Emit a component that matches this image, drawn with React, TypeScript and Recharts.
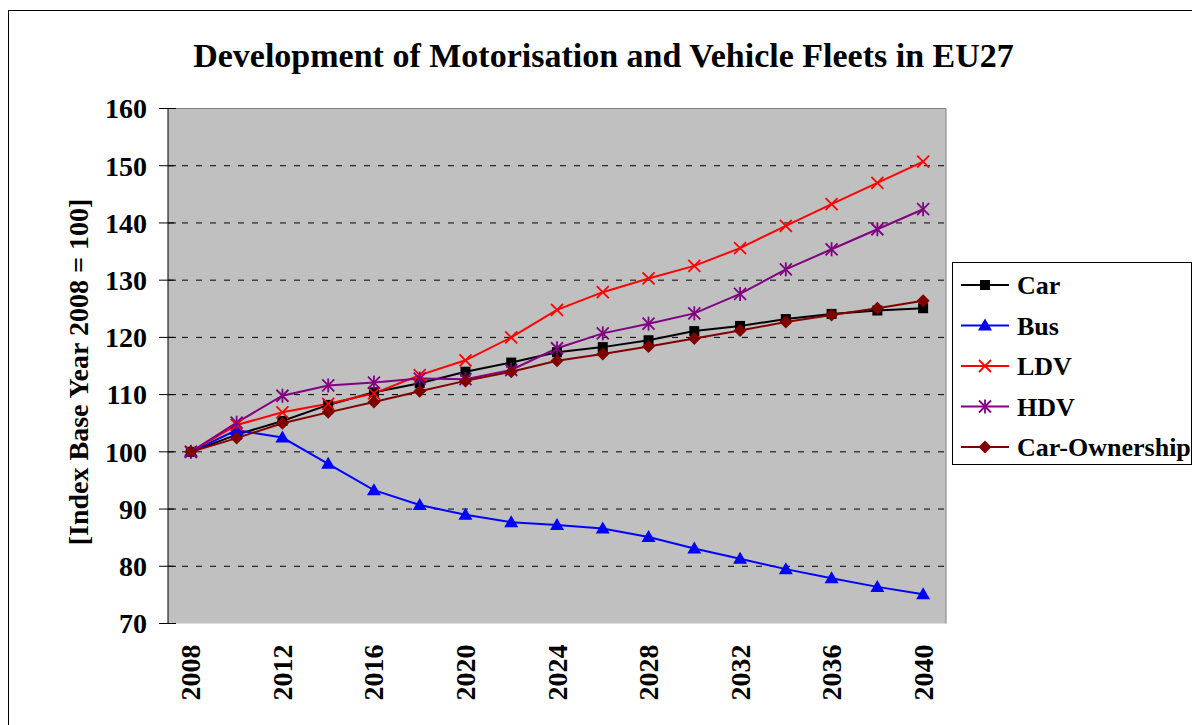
import { LineChart, Line, XAxis, YAxis, ReferenceArea, ReferenceLine, Legend } from 'recharts';

const years = [2008, 2010, 2012, 2014, 2016, 2018, 2020, 2022, 2024, 2026, 2028, 2030, 2032, 2034, 2036, 2038, 2040];
const car = [100, 103.0, 105.4, 108.2, 110.4, 112.0, 114.0, 115.6, 117.4, 118.3, 119.5, 121.1, 122.0, 123.2, 124.1, 124.7, 125.1];
const bus = [100, 103.8, 102.5, 97.9, 93.3, 90.7, 89.0, 87.7, 87.2, 86.6, 85.1, 83.1, 81.3, 79.5, 77.9, 76.4, 75.1];
const ldv = [100, 104.7, 106.9, 108.4, 110.2, 113.4, 116.0, 120.0, 124.8, 127.9, 130.3, 132.5, 135.6, 139.5, 143.3, 147.0, 150.7];
const hdv = [100, 105.1, 109.8, 111.6, 112.1, 112.8, 112.7, 114.3, 118.1, 120.7, 122.4, 124.2, 127.6, 131.9, 135.4, 138.9, 142.4];
const carOwnership = [100, 102.4, 105.0, 106.9, 108.7, 110.6, 112.4, 114.0, 115.9, 117.1, 118.4, 119.8, 121.2, 122.7, 123.9, 125.1, 126.4];

const yTicks = [70, 80, 90, 100, 110, 120, 130, 140, 150, 160];
const gridValues = [80, 90, 100, 110, 120, 130, 140, 150];
const xLabelTicks = [2008, 2012, 2016, 2020, 2024, 2028, 2032, 2036, 2040];
// category boundaries, half a step either side of each year
const xBounds = [...years.map((y) => y - 1), years[years.length - 1] + 1];

const FONT = '"Liberation Serif", "Times New Roman", serif';

type Shape = 'square' | 'triangle' | 'x' | 'star' | 'diamond';

const series: { key: string; name: string; color: string; shape: Shape; values: number[] }[] = [
  { key: 'car', name: 'Car', color: '#000000', shape: 'square', values: car },
  { key: 'bus', name: 'Bus', color: '#0000ff', shape: 'triangle', values: bus },
  { key: 'ldv', name: 'LDV', color: '#ff0000', shape: 'x', values: ldv },
  { key: 'hdv', name: 'HDV', color: '#800080', shape: 'star', values: hdv },
  { key: 'own', name: 'Car-Ownership', color: '#800000', shape: 'diamond', values: carOwnership },
];

const data = years.map((year, i) => {
  const row: Record<string, number> = { year };
  series.forEach((s) => (row[s.key] = s.values[i]));
  return row;
});

function marker(shape: Shape, color: string, cx: number, cy: number, key?: string | number) {
  switch (shape) {
    case 'square':
      return <rect key={key} x={cx - 5} y={cy - 5} width={10} height={10} fill={color} />;
    case 'triangle':
      return <polygon key={key} points={`${cx},${cy - 7} ${cx + 7},${cy + 5} ${cx - 7},${cy + 5}`} fill={color} />;
    case 'x':
      return (
        <g key={key} stroke={color} strokeWidth={1.8}>
          <line x1={cx - 6} y1={cy - 6} x2={cx + 6} y2={cy + 6} />
          <line x1={cx - 6} y1={cy + 6} x2={cx + 6} y2={cy - 6} />
        </g>
      );
    case 'star':
      return (
        <g key={key} stroke={color} strokeWidth={1.8}>
          <line x1={cx - 6} y1={cy - 6} x2={cx + 6} y2={cy + 6} />
          <line x1={cx - 6} y1={cy + 6} x2={cx + 6} y2={cy - 6} />
          <line x1={cx} y1={cy - 7} x2={cx} y2={cy + 7} />
        </g>
      );
    case 'diamond':
    default:
      return <polygon key={key} points={`${cx},${cy - 6.5} ${cx + 6.5},${cy} ${cx},${cy + 6.5} ${cx - 6.5},${cy}`} fill={color} />;
  }
}

const YTick = (props: any) => {
  const { x, y, payload } = props;
  return (
    <g>
      <line x1={x + 12} y1={y} x2={x + 29} y2={y} stroke="#000" />
      <text x={x} y={y} dy="0.35em" textAnchor="end" fontFamily={FONT} fontWeight="bold" fontSize={28} fill="#000">
        {payload.value}
      </text>
    </g>
  );
};

const XTick = (props: any) => {
  const { x, y, payload } = props;
  return (
    <text
      x={x}
      y={y}
      transform={`rotate(-90 ${x} ${y})`}
      textAnchor="end"
      dominantBaseline="central"
      fontFamily={FONT}
      fontWeight="bold"
      fontSize={28}
      fill="#000"
    >
      {payload.value}
    </text>
  );
};

const YLabel = (props: any) => {
  const { viewBox } = props;
  const cx = viewBox.x + 70;
  const cy = viewBox.y + viewBox.height / 2 + 6;
  return (
    <text
      x={cx}
      y={cy}
      transform={`rotate(-90 ${cx} ${cy})`}
      textAnchor="middle"
      dominantBaseline="central"
      fontFamily={FONT}
      fontWeight="bold"
      fontSize={28}
      fill="#000"
    >
      [Index Base Year 2008 = 100]
    </text>
  );
};

const LegendBox = () => (
  <svg width={238} height={201} style={{ display: 'block' }}>
    {series.map((s, i) => {
      const cy = 22 + i * 40.5;
      return (
        <g key={s.key}>
          <line x1={8} y1={cy} x2={56} y2={cy} stroke={s.color} strokeWidth={2} />
          {marker(s.shape, s.color, 32, cy)}
          <text x={64} y={cy} dy="0.35em" fontFamily={FONT} fontWeight="bold" fontSize={26} fill="#000">
            {s.name}
          </text>
        </g>
      );
    })}
  </svg>
);

export default function App() {
  return (
    <div style={{ position: 'absolute', left: 8, top: 8, width: 1184, height: 717, overflow: 'hidden', background: '#fff' }}>
      <div style={{ position: 'absolute', left: 0, top: 2, width: 1400, height: 1000, border: '1px solid #000', boxSizing: 'border-box' }} />
      <div
        style={{
          position: 'absolute',
          left: 0,
          top: 31,
          width: 1191,
          textAlign: 'center',
          fontFamily: FONT,
          fontWeight: 'bold',
          fontSize: 34,
          lineHeight: '34px',
          color: '#000',
          zIndex: 2,
        }}
      >
        Development of Motorisation and Vehicle Fleets in EU27
      </div>
      <div style={{ position: 'absolute', left: 0, top: 0 }}>
        <LineChart width={1184} height={717} data={data} margin={{ top: 100.5, right: 246, bottom: 41.5, left: 0 }}>
          <XAxis
            xAxisId="bounds"
            dataKey="year"
            type="number"
            domain={[xBounds[0], xBounds[xBounds.length - 1]]}
            ticks={xBounds}
            height={0}
            tickSize={9}
            tick={() => <g />}
            axisLine={{ stroke: '#000' }}
            tickLine={{ stroke: '#000' }}
          />
          <XAxis
            xAxisId="main"
            dataKey="year"
            type="number"
            domain={[xBounds[0], xBounds[xBounds.length - 1]]}
            ticks={xLabelTicks}
            interval={0}
            height={60}
            tickSize={0}
            tickMargin={21}
            axisLine={false}
            tickLine={false}
            tick={<XTick />}
          />
          <YAxis
            type="number"
            domain={[70, 160]}
            ticks={yTicks}
            interval={0}
            width={160}
            tickSize={9}
            tickMargin={12}
            tickLine={false}
            axisLine={{ stroke: '#000' }}
            tick={<YTick />}
            label={<YLabel />}
          />
          <ReferenceArea
            xAxisId="main"
            x1={xBounds[0]}
            x2={xBounds[xBounds.length - 1]}
            y1={70}
            y2={160}
            fill="#c0c0c0"
            fillOpacity={1}
            stroke="none"
          />
          {gridValues.map((v) => (
            <ReferenceLine key={v} xAxisId="main" y={v} stroke="#000" strokeDasharray="6 8" />
          ))}
          <ReferenceLine xAxisId="main" y={160} stroke="#808080" />
          <ReferenceLine xAxisId="main" x={xBounds[xBounds.length - 1]} stroke="#808080" />
          {series.map((s) => (
            <Line
              key={s.key}
              xAxisId="main"
              dataKey={s.key}
              name={s.name}
              type="linear"
              stroke={s.color}
              strokeWidth={2}
              isAnimationActive={false}
              dot={(p: any) => marker(s.shape, s.color, p.cx, p.cy, `${s.key}-${p.index}`)}
              activeDot={false}
            />
          ))}
          <Legend
            layout="vertical"
            align="center"
            verticalAlign="middle"
            content={() => <LegendBox />}
            wrapperStyle={{
              left: 944,
              top: 254,
              width: 240,
              height: 203,
              border: '1px solid #000',
              background: '#fff',
              boxSizing: 'border-box',
            }}
          />
        </LineChart>
      </div>
    </div>
  );
}
